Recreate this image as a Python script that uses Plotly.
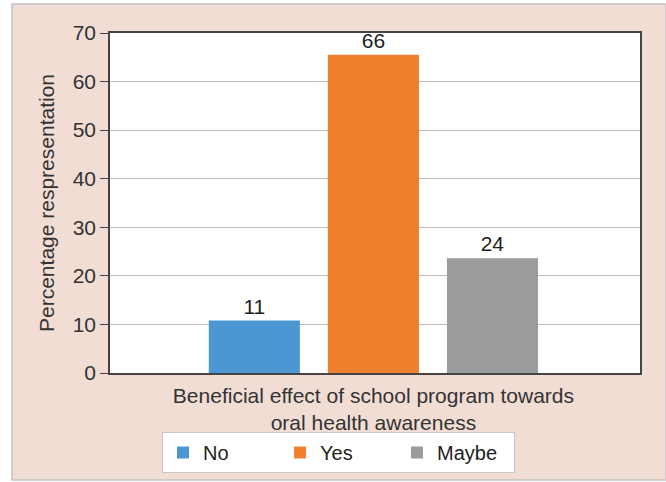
import plotly.graph_objects as go

category = ["Beneficial effect of school program towards<br>oral health awareness"]
series_names = ["No", "Yes", "Maybe"]
series_values = [10.8, 65.5, 23.6]
series_labels = ["11", "66", "24"]
series_colors = ["#4a97d2", "#f0802e", "#9a9b9b"]
y_ticks = [0, 10, 20, 30, 40, 50, 60, 70]

FONT = "Liberation Sans, Arial, sans-serif"
FS = 21

fig = go.Figure()
for name, val, lab, col in zip(series_names, series_values, series_labels, series_colors):
    fig.add_trace(go.Bar(
        x=category, y=[val], name=name, marker=dict(color=col, line=dict(width=0)),
        text=[lab], textposition="outside", cliponaxis=False,
        textfont=dict(family=FONT, size=FS, color="#222222"),
    ))

W, H = 666, 482
L, R, T, B = 110, 26, 33, 109
pw, ph = W - L - R, H - T - B

def px(x):
    return (x - L) / pw

def py(y):
    return (H - B - y) / ph

fig.add_shape(type="rect", xref="paper", yref="paper",
              x0=px(12), x1=px(666), y0=py(480), y1=py(4),
              fillcolor="#f2ddd5", line=dict(color="#c4c4c4", width=1.5), layer="below")
fig.add_shape(type="rect", xref="paper", yref="paper",
              x0=0, x1=1, y0=0, y1=1,
              fillcolor="#ffffff", line=dict(width=0), layer="below")

fig.update_layout(
    width=W, height=H,
    margin=dict(l=L, r=R, t=T, b=B, autoexpand=False),
    paper_bgcolor="#ffffff", plot_bgcolor="rgba(0,0,0,0)",
    font=dict(family=FONT, size=FS, color="#333333"),
    barmode="group", bargap=0.326, bargroupgap=0.235,
    showlegend=True,
    legend=dict(orientation="h", x=px(162), y=py(432), xanchor="left", yanchor="top",
                bgcolor="#ffffff", bordercolor="#c8c8c8", borderwidth=1,
                font=dict(family=FONT, size=20, color="#222222"),
                entrywidth=72, entrywidthmode="pixels", itemwidth=30,
                traceorder="normal"),
    xaxis=dict(range=[-0.497, 0.503], showline=True, linecolor="#444444", linewidth=1.5,
               mirror=True, ticks="outside", ticklen=3, tickcolor="rgba(0,0,0,0)",
               showgrid=False,
               tickfont=dict(family=FONT, size=FS, color="#333333")),
    yaxis=dict(range=[0, 70], tickvals=y_ticks, showline=True, linecolor="#444444",
               linewidth=1.5, mirror=True, ticks="outside", ticklen=8, tickcolor="#444444",
               showgrid=True, gridcolor="#bdbdbd", gridwidth=1, zeroline=False,
               tickfont=dict(family=FONT, size=FS, color="#333333"),
               title=dict(text="Percentage respresentation", standoff=12,
                          font=dict(family=FONT, size=FS, color="#333333"))),
)

fig.write_html("out.html")
